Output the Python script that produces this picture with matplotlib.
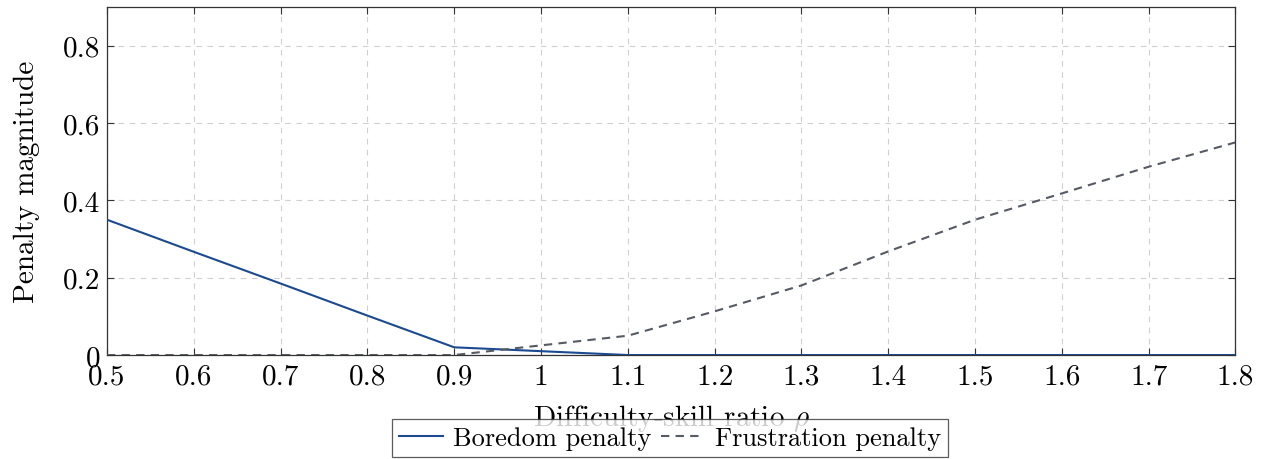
import numpy as np
import matplotlib
matplotlib.use("Agg")
import matplotlib.pyplot as plt

# Penalty curves against the difficulty-skill ratio
ratio = [0.5, 0.6, 0.7, 0.8, 0.9, 1.0, 1.1, 1.2, 1.3, 1.4, 1.5, 1.6, 1.7, 1.8]
boredom = [0.35, 0.267, 0.185, 0.102, 0.02, 0.01, 0.0, 0.0, 0.0, 0.0, 0.0, 0.0, 0.0, 0.0]
frustration = [0.0, 0.0, 0.0, 0.0, 0.0, 0.025, 0.05, 0.113, 0.18, 0.268, 0.35, 0.418, 0.487, 0.55]

x_ticks = [0.5, 0.6, 0.7, 0.8, 0.9, 1.0, 1.1, 1.2, 1.3, 1.4, 1.5, 1.6, 1.7, 1.8]
x_tick_labels = ["0.5", "0.6", "0.7", "0.8", "0.9", "1", "1.1", "1.2", "1.3", "1.4", "1.5", "1.6", "1.7", "1.8"]
y_ticks = [0, 0.2, 0.4, 0.6, 0.8]
y_tick_labels = ["0", "0.2", "0.4", "0.6", "0.8"]

plt.rcParams["font.family"] = "serif"
plt.rcParams["font.serif"] = ["cmr10"]
plt.rcParams["mathtext.fontset"] = "cm"
plt.rcParams["axes.unicode_minus"] = False

fig = plt.figure(figsize=(12.63, 4.6), dpi=100)
ax = fig.add_axes([0.0847, 0.226, 0.8935, 0.7565])

ax.plot(ratio, boredom, color="#1b4a90", lw=1.5, label="Boredom penalty", zorder=3)
ax.plot(ratio, frustration, color="#555a63", lw=1.5, ls=(0, (4, 3)), label="Frustration penalty", zorder=3)

ax.set_xlim(0.5, 1.8)
ax.set_ylim(0, 0.9)
ax.set_xticks(x_ticks)
ax.set_xticklabels(x_tick_labels)
ax.set_yticks(y_ticks)
ax.set_yticklabels(y_tick_labels)
ax.tick_params(direction="in", top=True, right=True, length=5, width=0.8,
               labelsize=21, colors="#333333", labelcolor="black")
ax.tick_params(axis="x", pad=6)
ax.tick_params(axis="y", pad=5)
ax.grid(True, ls=(0, (5, 5)), color="#d0d0d0", lw=0.8)
for sp in ax.spines.values():
    sp.set_color("#333333")
    sp.set_linewidth(0.9)

ax.set_xlabel(r"Difficulty-skill ratio $\rho$", fontsize=21, labelpad=9)
ax.set_ylabel("Penalty magnitude", fontsize=21, labelpad=16)

leg = fig.legend(loc="upper center", bbox_to_anchor=(0.5305, 0.087), ncol=2,
                 fontsize=19, frameon=True, fancybox=False, edgecolor="#333333",
                 handlelength=1.65, handletextpad=0.4, columnspacing=0.35,
                 borderpad=0.28, borderaxespad=0)
leg.get_frame().set_linewidth(0.9)

fig.savefig("out.png", dpi=100)
